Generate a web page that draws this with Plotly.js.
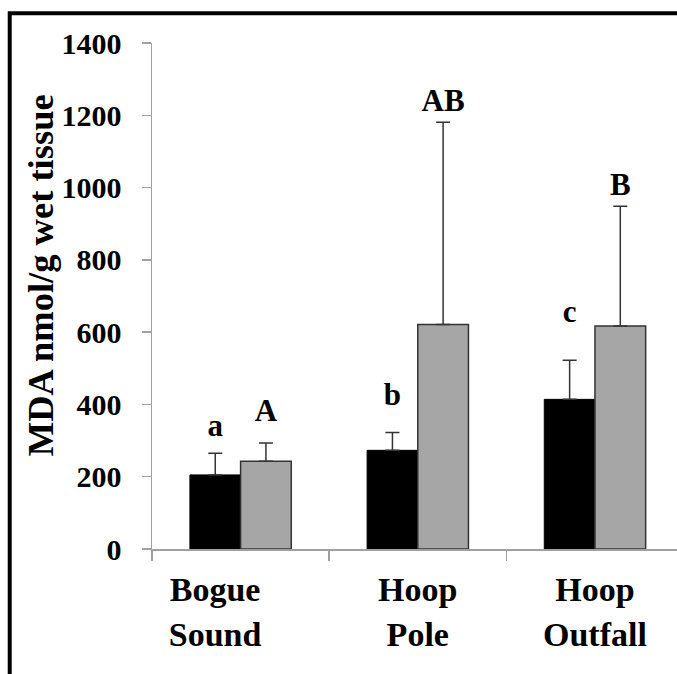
<!DOCTYPE html>
<html>
<head>
<meta charset="utf-8">
<script src="https://cdn.plot.ly/plotly-3.0.1.min.js"></script>
<style>
html,body{margin:0;padding:0;overflow:hidden;background:#fff;}
#chart{width:677px;height:674px;}
</style>
</head>
<body>
<div id="chart"></div>
<script>
// ---- data ----
var categories = ["Bogue\u00a0\u00a0\u00a0\u00a0\u00a0\u00a0<br>Sound\u00a0\u00a0\u00a0\u00a0\u00a0\u00a0", "Hoop<br>Pole", "Hoop<br>Outfall"];
var blackValues = [205, 273, 414];
var blackErrors = [60, 49, 108];
var grayValues = [243, 621, 617];
var grayErrors = [50, 560, 331];
var blackLetters = ["a", "b", "c"];
var grayLetters = ["A", "AB", "B"];
var blackLetterY = [334, 421, 650];
var grayLetterY = [376, 1234, 1002];
var yTicks = [0, 200, 400, 600, 800, 1000, 1200, 1400];
var yTitle = "MDA nmol/g wet tissue";

var FONT = "Liberation Serif, Times New Roman, serif";

var traces = [
  {
    type: "bar", x: categories, y: blackValues, name: "black",
    marker: {color: "#000000", line: {color: "#000000", width: 1}},
    error_y: {type: "data", array: blackErrors, symmetric: false, arrayminus: [0,0,0],
              color: "#333333", thickness: 1.5, width: 7},
    offsetgroup: "1"
  },
  {
    type: "bar", x: categories, y: grayValues, name: "gray",
    marker: {color: "#a6a6a6", line: {color: "#333333", width: 1.5}},
    error_y: {type: "data", array: grayErrors, symmetric: false, arrayminus: [0,0,0],
              color: "#333333", thickness: 1.5, width: 7},
    offsetgroup: "2"
  },
  {
    type: "scatter", mode: "text", x: categories, y: blackLetterY, text: blackLetters,
    textposition: "middle center", offsetgroup: "1",
    textfont: {family: FONT, size: 31, color: "#000", weight: "bold"},
    hoverinfo: "skip"
  },
  {
    type: "scatter", mode: "text", x: categories, y: grayLetterY, text: grayLetters,
    textposition: "middle center", offsetgroup: "2",
    textfont: {family: FONT, size: 31, color: "#000", weight: "bold"},
    hoverinfo: "skip"
  }
];

var layout = {
  width: 677, height: 674,
  margin: {l: 152, r: 0, t: 43, b: 125, autoexpand: false},
  paper_bgcolor: "#ffffff", plot_bgcolor: "#ffffff",
  showlegend: false,
  barmode: "group", bargap: 0.428, bargroupgap: 0,
  scattermode: "group", scattergap: 0.428,
  font: {family: FONT, color: "#000"},
  xaxis: {
    type: "category", range: [-0.5, 2.463], fixedrange: true,
    showline: true, linecolor: "#a0a0a0", linewidth: 1.5,
    ticks: "outside", tickson: "boundaries", ticklen: 10, tickcolor: "#a0a0a0", tickwidth: 1.5,
    ticklabelstandoff: 10,
    tickfont: {family: FONT, size: 34, color: "#000", weight: "bold"},
    showgrid: false, zeroline: false, automargin: false
  },
  yaxis: {
    range: [0, 1400], tickvals: yTicks, ticktext: yTicks.map(String), fixedrange: true,
    showline: true, linecolor: "#a0a0a0", linewidth: 1.5,
    ticks: "outside", ticklen: 9, tickcolor: "#a0a0a0", tickwidth: 1.5,
    ticklabelstandoff: 14,
    tickfont: {family: FONT, size: 30, color: "#000", weight: "bold"},
    showgrid: false, zeroline: false, automargin: false
  },
  annotations: [{
    xref: "paper", yref: "paper", x: -0.2133, y: 0.541,
    xanchor: "center", yanchor: "middle", textangle: -90, showarrow: false,
    text: yTitle,
    font: {family: FONT, size: 36.5, color: "#000", weight: "bold"}
  }],
  shapes: [{
    type: "rect", xref: "paper", yref: "paper",
    x0: -0.271, x1: 1.3, y0: -0.5, y1: 1.0587,
    line: {color: "#000", width: 4}, fillcolor: "rgba(0,0,0,0)", layer: "above"
  }]
};

Plotly.newPlot("chart", traces, layout, {displayModeBar: false, staticPlot: true});
</script>
</body>
</html>
